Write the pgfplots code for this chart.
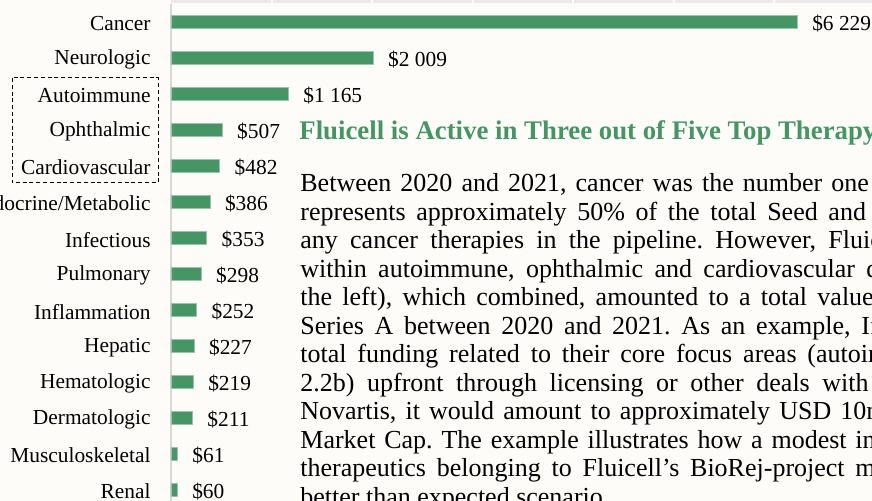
\documentclass[border=0pt]{standalone}
\usepackage{fontspec}
\setmainfont{Liberation Serif}
\usepackage{pgfplots}
\pgfplotsset{compat=1.18}
\usepackage{pgfplotstable}
\definecolor{barGreen}{RGB}{71,148,101}
\definecolor{cream}{RGB}{253,252,248}
\definecolor{bandGray}{RGB}{234,234,234}
\definecolor{axGray}{RGB}{215,215,215}
\pgfplotstableread{
y x
0 6229
1 2009
2 1165
3 507
4 482
5 386
6 353
7 298
8 252
9 227
10 219
11 211
12 61
13 60
}\funding
\newcommand{\lblfont}{\fontsize{10.7pt}{12pt}\selectfont}
\newcommand{\bodyfont}{\fontsize{13pt}{14pt}\selectfont}
\newcommand{\jl}[3]{\makebox[#1pt][s]{#2\ }#3}
\frenchspacing
\begin{document}
\begin{tikzpicture}[x=1pt,y=1pt]
\useasboundingbox (0,0) rectangle (436,250.5);
\clip (0,0) rectangle (436,250.5);
\fill[cream] (0,0) rectangle (436,250.5);
% top band
\fill[bandGray] (85.5,250.5) rectangle (436,248.85);
\foreach \k in {1,...,7}{
  \fill[cream] ({85.5+50.25*\k-0.5},250.5) rectangle ({85.5+50.25*\k+0.5},248.6);
}
\begin{axis}[
  at={(85.5pt,248.5pt)}, anchor=north west,
  scale only axis, width=351.75pt, height=252pt,
  xmin=0, xmax=7000, ymin=-0.5, ymax=13.5,
  y dir=reverse,
  axis x line=none,
  axis y line*=left,
  y axis line style={draw=axGray, line width=0.75pt, -},
  ytick={0,...,13},
  yticklabels={Cancer,Neurologic,Autoimmune,Ophthalmic,Cardiovascular,Endocrine/Metabolic,Infectious,Pulmonary,Inflammation,Hepatic,Hematologic,Dermatologic,Musculoskeletal,Renal},
  major tick length=0pt,
  yticklabel style={font=\lblfont, anchor=east, inner sep=0pt, xshift=-10pt, yshift=-0.8pt},
  xbar, bar width=6.5pt,
  point meta=x,
  nodes near coords={\$\pgfmathprintnumber[fixed,precision=0,assume math mode=true,1000 sep={\ }]{\pgfplotspointmeta}},
  nodes near coords align=horizontal,
  every node near coord/.append style={font=\lblfont, anchor=west, inner sep=0pt, xshift=7.5pt, yshift=-0.8pt, text=black},
  clip=false,
]
\addplot[fill=barGreen, draw=barGreen!55!white, line width=0.25pt] table[x=x,y=y] {\funding};
\end{axis}
% dashed highlight box
\draw[black, line width=0.5pt, dash pattern=on 2pt off 1.4pt] (6,211.5) rectangle (79,159);
% heading
\node[anchor=base west, inner sep=0pt, text=barGreen, font=\bfseries\fontsize{13.4pt}{14pt}\selectfont] at (149.5,180.5) {Fluicell is Active in Three out of Five Top Therapy Areas};
% body text
\begin{scope}[every node/.style={anchor=base west, inner sep=0pt, font=\bodyfont}]
\node at (150,154.5) {\jl{265.5}{Between 2020 and 2021, cancer was the number}{one}};
\node at (150,140.25) {\jl{264}{represents approximately 50\% of the total Seed}{and}};
\node at (150,126) {\jl{264}{any cancer therapies in the pipeline. However,}{Fluicell}};
\node at (150,111.75) {\jl{283}{within autoimmune, ophthalmic and cardiovascular}{diseases}};
\node at (150,97.5) {\jl{258.5}{the left), which combined, amounted to a total}{value}};
\node at (150,83.25) {\jl{280.5}{Series A between 2020 and 2021. As an example,}{If}};
\node at (150,69) {\jl{253.5}{total funding related to their core focus areas}{(autoimmune,}};
\node at (150,54.75) {\jl{261}{2.2b) upfront through licensing or other deals}{with}};
\node at (150,40.5) {\jl{270}{Novartis, it would amount to approximately USD}{10m}};
\node at (150,26.25) {\jl{277.5}{Market Cap. The example illustrates how a modest}{increase}};
\node at (150,12) {\jl{277.5}{therapeutics belonging to Fluicell’s BioRej-project}{may}};
\node at (150,-2.25) {better than expected scenario.};
\end{scope}
\end{tikzpicture}
\end{document}
